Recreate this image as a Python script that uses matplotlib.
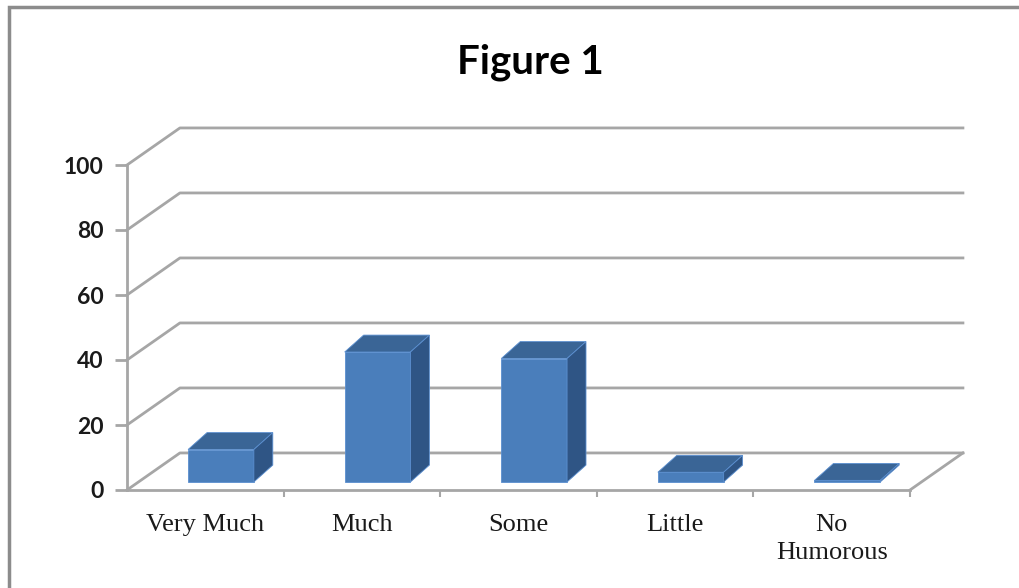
import numpy as np
import matplotlib
matplotlib.use("Agg")
import matplotlib.pyplot as plt
from matplotlib.patches import Polygon, Rectangle

# data
categories = ["Very Much", "Much", "Some", "Little", "No\nHumorous"]
values = [10, 40, 38, 3, 0.5]
yticks = [0, 20, 40, 60, 80, 100]
title = "Figure 1"

FRONT = "#4a7ebb"
TOP = "#3a6596"
SIDE = "#2f5585"
GRID = "#a6a6a6"

# pseudo 3d geometry, in data units
wall_dx, wall_dy = 0.338, 11.4     # depth of the floor / back wall
bar_x0, bar_w = 0.39, 0.42         # front face inside each category
bar_base = 2.46                    # bars stand a bit behind the front edge
bar_dx, bar_dy = 0.121, 5.2        # depth of a bar

W, H = 1019, 588
fig = plt.figure(figsize=(W / 100, H / 100), dpi=100)
fig.patches.append(Rectangle((9 / W, -0.1), 1.2, 1.1 - 7 / H, transform=fig.transFigure,
                             fill=False, edgecolor="#8c8c8c", linewidth=2.5))

ax = fig.add_axes([127 / W, (H - 490) / H, (910 - 127) / W, (490 - 165) / H])
n = len(categories)
ax.set_xlim(0, n)
ax.set_ylim(0, 100)

# back wall gridlines + diagonals
for v in yticks:
    ax.plot([0, wall_dx, n + wall_dx], [v, v + wall_dy, v + wall_dy],
            color=GRID, lw=2, clip_on=False, zorder=1)
ax.plot([n, n + wall_dx], [0, wall_dy], color=GRID, lw=2, clip_on=False, zorder=1)

# bars: front faces through ax.bar, top and side faces from the same values
x = np.arange(n)
ax.bar(x + bar_x0, values, width=bar_w, bottom=bar_base, align="edge",
       color=FRONT, edgecolor="#5b8fd0", linewidth=0.6, zorder=3)
for xi, v in zip(x, values):
    l, r = xi + bar_x0, xi + bar_x0 + bar_w
    t = bar_base + v
    top = [(l, t), (r, t), (r + bar_dx, t + bar_dy), (l + bar_dx, t + bar_dy)]
    side = [(r, bar_base), (r + bar_dx, bar_base + bar_dy),
            (r + bar_dx, t + bar_dy), (r, t)]
    ax.add_patch(Polygon(top, closed=True, facecolor=TOP, edgecolor="#5b8fd0",
                         lw=0.6, zorder=3, clip_on=False))
    ax.add_patch(Polygon(side, closed=True, facecolor=SIDE, edgecolor="#5b8fd0",
                         lw=0.6, zorder=3, clip_on=False))

for s in ["top", "right"]:
    ax.spines[s].set_visible(False)
for s in ["left", "bottom"]:
    ax.spines[s].set_color(GRID)
    ax.spines[s].set_linewidth(2)

ax.set_yticks(yticks)
ax.set_yticklabels([str(v) for v in yticks], fontfamily="Lato", fontsize=16.5,
                   fontweight="bold", color="#1a1a1a")
ax.tick_params(axis="y", length=9, width=2, color=GRID, pad=8)

ax.set_xticks(np.arange(1, n + 1))
ax.set_xticklabels([])
ax.set_xticks(x + 0.5, minor=True)
ax.set_xticklabels(categories, minor=True, fontfamily="Liberation Serif",
                   fontsize=19, color="#1a1a1a", linespacing=1.4, va="top")
ax.tick_params(axis="x", which="major", length=5, width=1.5, color=GRID)
ax.tick_params(axis="x", which="minor", length=0, pad=17)

fig.text(530 / W, 1 - 62 / H, title, ha="center", va="center",
         fontfamily="Lato", fontweight="bold", fontsize=29, color="black")

fig.savefig("out.png", dpi=100)
